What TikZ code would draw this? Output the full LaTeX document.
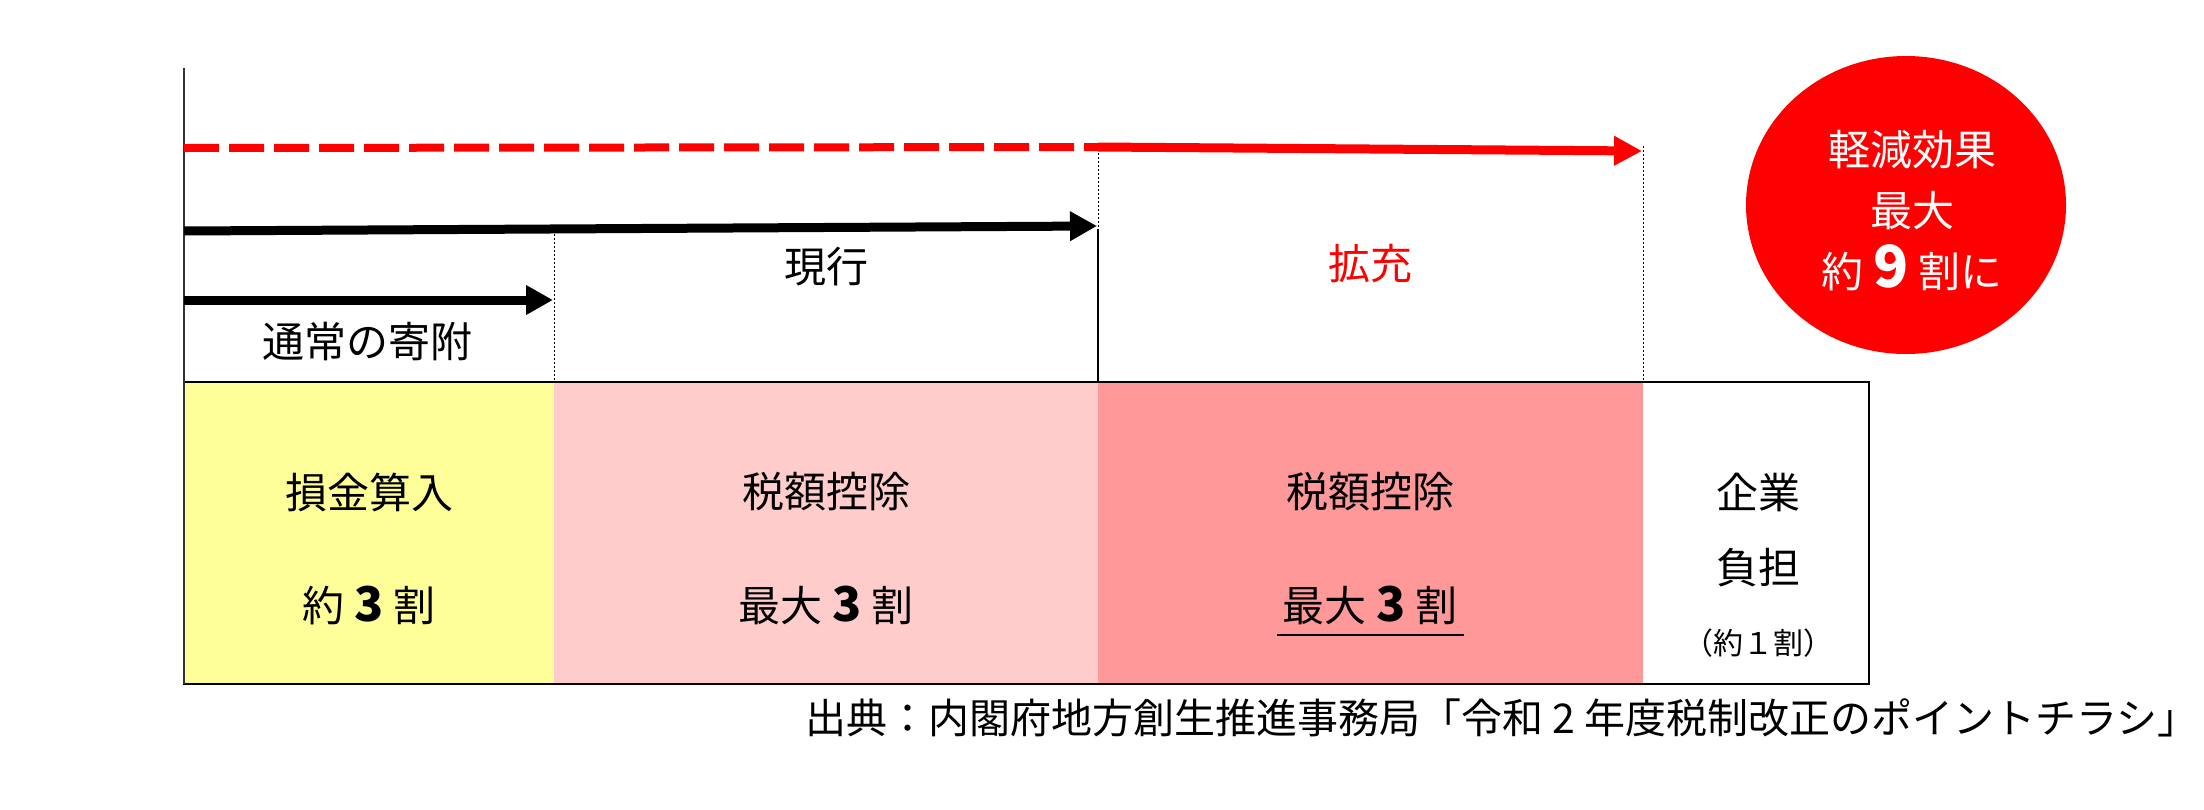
\documentclass[tikz,border=0pt]{standalone}
\usepackage{fontspec}
\setmainfont{Noto Sans CJK JP}
\usetikzlibrary{arrows.meta,shapes.geometric}
\definecolor{cyellow}{HTML}{FFFF99}
\definecolor{clpink}{HTML}{FFCCCC}
\definecolor{cpink}{HTML}{FF9999}
\definecolor{cred}{HTML}{FF0000}
\newcommand{\bigdigit}[1]{{\bfseries\fontsize{24pt}{25pt}\selectfont #1}}
\begin{document}
\begin{tikzpicture}[x=0.5pt,y=-0.5pt,
  lbl/.style={font=\fontsize{21pt}{25pt}\selectfont, inner sep=0pt},
  smalllbl/.style={font=\fontsize{15pt}{18pt}\selectfont, inner sep=0pt},
  srclbl/.style={font=\fontsize{20.5pt}{24pt}\selectfont, inner sep=0pt},
  blackarrow/.style={line width=4.5pt, -{Triangle[length=13.5pt,width=14pt]}},
  redarrow/.style={line width=4.5pt, draw=cred, -{Triangle[length=14pt,width=14pt,fill=cred]}},
  reddash/.style={line width=4pt, draw=cred, dash pattern=on 17.5pt off 5pt},
  guide/.style={line width=0.5pt, dash pattern=on 1pt off 1pt},
  guidesolid/.style={line width=0.8pt},
  frameline/.style={line width=1pt},
  axisline/.style={line width=0.8pt, black!80}]
\useasboundingbox (0,0) rectangle (2204,809);
% cells
\fill[cyellow] (184,382) rectangle (554,684);
\fill[clpink] (554,382) rectangle (1098,684);
\fill[cpink] (1098,382) rectangle (1643,684);
\draw[frameline] (184,382) rectangle (1869,684);
% axis
\coordinate (axtop) at (184,68);
\coordinate (axbot) at (184,684);
\draw[axisline] (axtop) -- (axbot);
% guides
\coordinate (g1a) at (554,234); \coordinate (g1b) at (554,382);
\coordinate (g2a) at (1098,153); \coordinate (g2m) at (1098,229); \coordinate (g2b) at (1098,382);
\coordinate (g3a) at (1643,146); \coordinate (g3b) at (1643,382);
\draw[guide] (g1a) -- (g1b);
\draw[guide] (g2a) -- (g2m);
\draw[guidesolid] (g2m) -- (g2b);
\draw[guide] (g3a) -- (g3b);
% red arrows
\coordinate (r0) at (184,148); \coordinate (r1) at (1098,147); \coordinate (r2) at (1642,151);
\draw[reddash] (r0) -- (r1);
\draw[redarrow] (r1) -- (r2);
% black arrows
\coordinate (a0) at (184,231); \coordinate (a1) at (1097,226);
\draw[blackarrow] (a0) -- (a1);
\coordinate (b0) at (184,300); \coordinate (b1) at (553,300);
\draw[blackarrow] (b0) -- (b1);
% top labels
\node[lbl] (tsujo) at (367,342) {通常の寄附};
\node[lbl] (genko) at (826,267) {現行};
\node[lbl, text=cred] (kakuju) at (1370,264) {拡充};
% ellipse
\node[ellipse, fill=cred, minimum width=160pt, minimum height=149pt, inner sep=0pt] (oval) at (1906,205) {};
\node[lbl, text=white, align=center, font=\fontsize{21pt}{30.5pt}\selectfont] (effect) at (1912,211) {軽減効果\\最大\\約 {\bfseries\fontsize{29pt}{29pt}\selectfont 9} 割に};
% cell labels
\node[lbl] (songin) at (369,492) {損金算入};
\node[lbl] (yaku3) at (369,605) {約 \bigdigit{3} 割};
\node[lbl] (zeigaku1) at (826,492) {税額控除};
\node[lbl] (max3a) at (826,605) {最大 \bigdigit{3} 割};
\node[lbl] (zeigaku2) at (1370,492) {税額控除};
\node[lbl] (max3b) at (1370,605) {最大 \bigdigit{3} 割};
\coordinate (ul1) at (1277,635); \coordinate (ul2) at (1464,635);
\draw[line width=1.3pt] (ul1) -- (ul2);
\node[lbl] (kigyo) at (1758,492) {企業};
\node[lbl] (futan) at (1758,568) {負担};
\node[smalllbl] (yaku1) at (1758,643) {（約１割）};
% source
\node[srclbl] (source) at (1502,718) {出典：内閣府地方創生推進事務局「令和 2 年度税制改正のポイントチラシ」};
\end{tikzpicture}
\end{document}
